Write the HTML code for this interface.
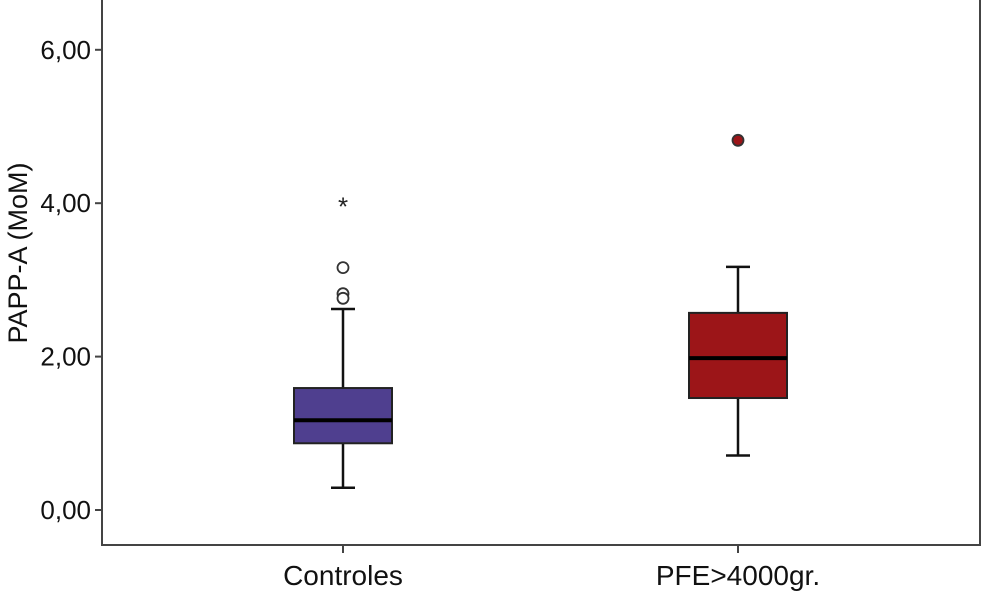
<!DOCTYPE html>
<html><head><meta charset="utf-8"><style>
html,body{margin:0;padding:0;background:#fff;}
svg{display:block;font-family:"Liberation Sans",Arial,sans-serif;}
</style></head><body>
<svg id="chart" width="984" height="592" viewBox="0 0 984 592" xmlns="http://www.w3.org/2000/svg"></svg>
<script>
const categories = ["Controles", "PFE>4000gr."];
const q1Values = [0.87, 1.46];
const medianValues = [1.17, 1.98];
const q3Values = [1.59, 2.57];
const whiskerLow = [0.29, 0.71];
const whiskerHigh = [2.62, 3.17];
const outliersCircle = [[3.16, 2.82, 2.76], [4.82]];
const outliersStar = [[3.98], []];
const yTicks = [0, 2, 4, 6];
const yTickLabels = ["0,00", "2,00", "4,00", "6,00"];
const fills = ["#4f3f8f", "#9c1518"];

const NS = "http://www.w3.org/2000/svg";
const svg = document.getElementById("chart");
const y = v => 510 - v * 76.7;
const x = i => [343, 738][i];
function mk(tag, attrs, parent) {
  const e = document.createElementNS(NS, tag);
  for (const k in attrs) e.setAttribute(k, attrs[k]);
  (parent || svg).appendChild(e);
  return e;
}
const frame = mk("path", {d: "M102 0 V545 H980 V0", fill: "none", stroke: "#444", "stroke-width": 2});


yTicks.forEach((t, i) => {
  const tk = mk("line", {x1: 95, x2: 102, y1: y(t), y2: y(t), stroke: "#444", "stroke-width": 2});
  
  
  const lb = mk("text", {x: 91, y: y(t) + 9, "text-anchor": "end", "font-size": 26, fill: "#111"});
  lb.textContent = yTickLabels[i];
  
  
});
const yt = mk("text", {x: 0, y: 0, transform: "translate(27,253) rotate(-90)", "text-anchor": "middle", "font-size": 27, fill: "#111"});
yt.textContent = "PAPP-A (MoM)";



categories.forEach((c, i) => {
  const cx = x(i);
  const g = mk("g", {});
  
  
  mk("line", {x1: cx, x2: cx, y1: y(whiskerHigh[i]), y2: y(q3Values[i]), stroke: "#111", "stroke-width": 2.5}, g);
  mk("line", {x1: cx, x2: cx, y1: y(q1Values[i]), y2: y(whiskerLow[i]), stroke: "#111", "stroke-width": 2.5}, g);
  mk("line", {x1: cx - 12, x2: cx + 12, y1: y(whiskerHigh[i]), y2: y(whiskerHigh[i]), stroke: "#111", "stroke-width": 2.5}, g);
  mk("line", {x1: cx - 12, x2: cx + 12, y1: y(whiskerLow[i]), y2: y(whiskerLow[i]), stroke: "#111", "stroke-width": 2.5}, g);
  mk("rect", {x: cx - 49, y: y(q3Values[i]), width: 98, height: y(q1Values[i]) - y(q3Values[i]), fill: fills[i], stroke: "#222", "stroke-width": 2}, g);
  mk("line", {x1: cx - 49, x2: cx + 49, y1: y(medianValues[i]), y2: y(medianValues[i]), stroke: "#000", "stroke-width": 4}, g);
  outliersCircle[i].forEach(v => {
    const o = mk("circle", {cx: cx, cy: y(v), r: 5.5, fill: i === 0 ? "#fff" : fills[i], stroke: "#333", "stroke-width": 1.8});
    
    
  });
  outliersStar[i].forEach(v => {
    const s = mk("text", {x: cx, y: y(v) + 11, "text-anchor": "middle", "font-size": 26, fill: "#222"});
    s.textContent = "*";
    
    
  });
  const tk = mk("line", {x1: cx, x2: cx, y1: 545, y2: 553, stroke: "#444", "stroke-width": 2});
  
  
  const lb = mk("text", {x: cx, y: 585, "text-anchor": "middle", "font-size": 28, fill: "#111"});
  lb.textContent = c;
  
  
});
</script>
</body></html>
